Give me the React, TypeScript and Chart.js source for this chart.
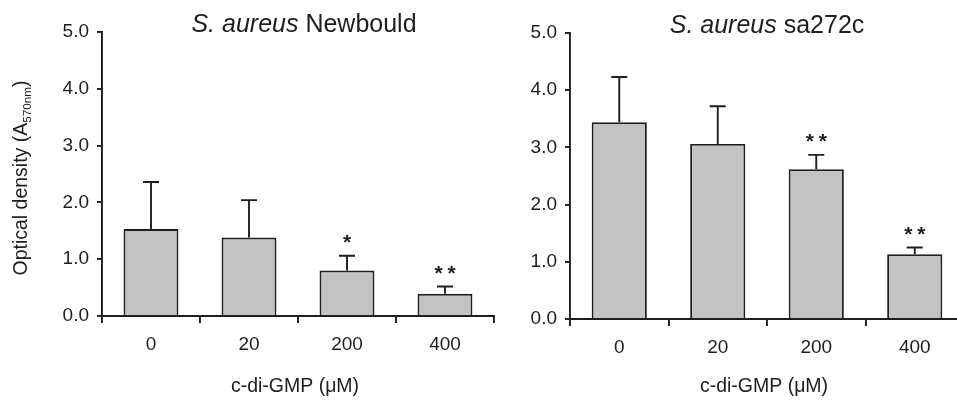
import React, { useEffect, useRef } from 'react';
import { Chart, registerables } from 'chart.js';

Chart.register(...registerables);

const categories = ['0', '20', '200', '400'];
const newbouldMeans = [1.53, 1.38, 0.8, 0.39];
const newbouldErrors = [0.83, 0.66, 0.26, 0.13];
const newbouldSignificance = ['', '', '*', '**'];
const sa272cMeans = [3.44, 3.06, 2.62, 1.13];
const sa272cErrors = [0.79, 0.66, 0.25, 0.12];
const sa272cSignificance = ['', '', '**', '**'];
const yMin = 0;
const yMax = 5;
const yStep = 1;
const xAxisTitle = 'c-di-GMP (\u03bcM)';
const yAxisTitleMain = 'Optical density (A';
const yAxisTitleSub = '570nm';
const yAxisTitleEnd = ')';

const FONT = '"Liberation Sans", Arial, Helvetica, sans-serif';
const INK = '#1e1e1e';
const BAR_FILL = '#c3c3c3';

const TICK_SIZE = 19;
const TITLE_SIZE = 25;
const AXIS_TITLE_SIZE = 19.5;
const LINE_W = 1.9;

const annotatePlugin = {
  id: 'annotate',
  afterDatasetsDraw(chart: any, _args: any, opts: any) {
    const ctx = chart.ctx;
    const meta = chart.getDatasetMeta(0);
    const yScale = chart.scales.y;
    const means: number[] = opts.means;
    const errors: number[] = opts.errors;
    const sig: string[] = opts.sig;
    ctx.save();
    ctx.strokeStyle = INK;
    ctx.fillStyle = INK;
    ctx.lineWidth = LINE_W;
    meta.data.forEach((el: any, i: number) => {
      const x = el.x;
      const yTop = yScale.getPixelForValue(means[i]);
      const yErr = yScale.getPixelForValue(means[i] + errors[i]);
      ctx.beginPath();
      ctx.moveTo(x, yTop);
      ctx.lineTo(x, yErr);
      ctx.moveTo(x - 8, yErr);
      ctx.lineTo(x + 8, yErr);
      ctx.stroke();
      const s = sig[i];
      if (s) {
        const size = 21;
        ctx.font = `bold ${size}px ${FONT}`;
        ctx.textAlign = 'center';
        ctx.textBaseline = 'alphabetic';
        const cy = yErr - 18;
        const n = s.length;
        const gap = 13;
        for (let k = 0; k < n; k++) {
          const sx = x + (k - (n - 1) / 2) * gap;
          ctx.fillText('*', sx, cy + size * 0.55);
        }
      }
    });
    ctx.restore();
  },
  afterDraw(chart: any, _args: any, opts: any) {
    const ctx = chart.ctx;
    const area = chart.chartArea;
    const cx = (area.left + area.right) / 2;
    ctx.save();
    ctx.fillStyle = INK;
    ctx.textBaseline = 'middle';
    ctx.textAlign = 'left';
    ctx.font = `italic ${TITLE_SIZE}px ${FONT}`;
    const italicPart = opts.titleItalic;
    const wItalic = ctx.measureText(italicPart).width;
    ctx.font = `${TITLE_SIZE}px ${FONT}`;
    const restPart = opts.titleRest;
    const wRest = ctx.measureText(restPart).width;
    const tStart = cx + opts.titleDx - (wItalic + wRest) / 2;
    ctx.font = `italic ${TITLE_SIZE}px ${FONT}`;
    ctx.fillText(italicPart, tStart, opts.titleY);
    ctx.font = `${TITLE_SIZE}px ${FONT}`;
    ctx.fillText(restPart, tStart + wItalic, opts.titleY);
    ctx.textAlign = 'center';
    ctx.font = `${AXIS_TITLE_SIZE}px ${FONT}`;
    ctx.fillText(xAxisTitle, cx + opts.xTitleDx, opts.xTitleY);
    if (opts.showYTitle) {
      const subSize = AXIS_TITLE_SIZE * 0.6;
      ctx.font = `${AXIS_TITLE_SIZE}px ${FONT}`;
      const wMain = ctx.measureText(yAxisTitleMain).width;
      const wEnd = ctx.measureText(yAxisTitleEnd).width;
      ctx.font = `${subSize}px ${FONT}`;
      const wSub = ctx.measureText(yAxisTitleSub).width;
      const total = wMain + wSub + wEnd;
      ctx.translate(opts.yTitleX, opts.yTitleY);
      ctx.rotate(-Math.PI / 2);
      ctx.textAlign = 'left';
      let px = -total / 2;
      ctx.font = `${AXIS_TITLE_SIZE}px ${FONT}`;
      ctx.fillText(yAxisTitleMain, px, 0);
      px += wMain;
      ctx.font = `${subSize}px ${FONT}`;
      ctx.fillText(yAxisTitleSub, px, AXIS_TITLE_SIZE * 0.3);
      px += wSub;
      ctx.font = `${AXIS_TITLE_SIZE}px ${FONT}`;
      ctx.fillText(yAxisTitleEnd, px, 0);
    }
    ctx.restore();
  },
};

function makeConfig(
  means: number[],
  errors: number[],
  sig: string[],
  layout: any,
  annot: any
): any {
  return {
    type: 'bar',
    data: {
      labels: categories,
      datasets: [
        {
          data: means,
          backgroundColor: BAR_FILL,
          borderColor: INK,
          borderWidth: LINE_W,
          borderSkipped: 'bottom',
          barPercentage: 0.56,
          categoryPercentage: 1,
        },
      ],
    },
    options: {
      responsive: false,
      animation: false,
      devicePixelRatio: 1,
      layout: { padding: layout.padding },
      plugins: {
        legend: { display: false },
        title: { display: false },
        tooltip: { enabled: false },
        annotate: { means, errors, sig, ...annot },
      },
      scales: {
        x: {
          offset: true,
          afterFit: (scale: any) => {
            scale.height = layout.xHeight;
          },
          grid: {
            offset: true,
            drawOnChartArea: false,
            drawTicks: true,
            tickLength: 7,
            color: INK,
            lineWidth: LINE_W,
          },
          border: { display: true, color: INK, width: LINE_W },
          ticks: {
            color: INK,
            font: { family: FONT, size: TICK_SIZE },
            padding: 10,
            maxRotation: 0,
          },
        },
        y: {
          min: yMin,
          max: yMax,
          afterFit: (scale: any) => {
            scale.width = layout.yWidth;
          },
          grid: {
            drawOnChartArea: false,
            drawTicks: true,
            tickLength: 5,
            color: INK,
            lineWidth: LINE_W,
          },
          border: { display: true, color: INK, width: LINE_W },
          ticks: {
            stepSize: yStep,
            color: INK,
            font: { family: FONT, size: TICK_SIZE },
            padding: 8,
            callback: (v: any) => Number(v).toFixed(1),
          },
        },
      },
    },
    plugins: [annotatePlugin],
  };
}

function BarPanel(props: { left: number; width: number; config: any }) {
  const ref = useRef<HTMLCanvasElement | null>(null);
  useEffect(() => {
    if (!ref.current) return;
    const chart = new Chart(ref.current, props.config);
    return () => chart.destroy();
  }, []);
  return (
    <canvas
      ref={ref}
      width={props.width}
      height={400}
      style={{
        position: 'absolute',
        left: props.left,
        top: 0,
        width: props.width,
        height: 400,
      }}
    />
  );
}

export default function App() {
  const leftConfig = makeConfig(
    newbouldMeans,
    newbouldErrors,
    newbouldSignificance,
    { padding: { left: 0, right: 16, top: 32, bottom: 0 }, yWidth: 102, xHeight: 84 },
    {
      titleItalic: 'S. aureus',
      titleRest: ' Newbould',
      titleDx: 6,
      titleY: 25,
      xTitleDx: -3,
      xTitleY: 387,
      showYTitle: true,
      yTitleX: 22,
      yTitleY: 178,
    }
  );
  const rightConfig = makeConfig(
    sa272cMeans,
    sa272cErrors,
    sa272cSignificance,
    { padding: { left: 0, right: 16, top: 33, bottom: 0 }, yWidth: 100, xHeight: 81 },
    {
      titleItalic: 'S. aureus',
      titleRest: ' sa272c',
      titleDx: 0,
      titleY: 26,
      xTitleDx: -3,
      xTitleY: 387,
      showYTitle: false,
    }
  );
  return (
    <div
      style={{
        position: 'fixed',
        left: 0,
        top: 0,
        width: 957,
        height: 400,
        overflow: 'hidden',
        background: '#ffffff',
      }}
    >
      <BarPanel left={0} width={510} config={leftConfig} />
      <BarPanel left={470} width={510} config={rightConfig} />
    </div>
  );
}
